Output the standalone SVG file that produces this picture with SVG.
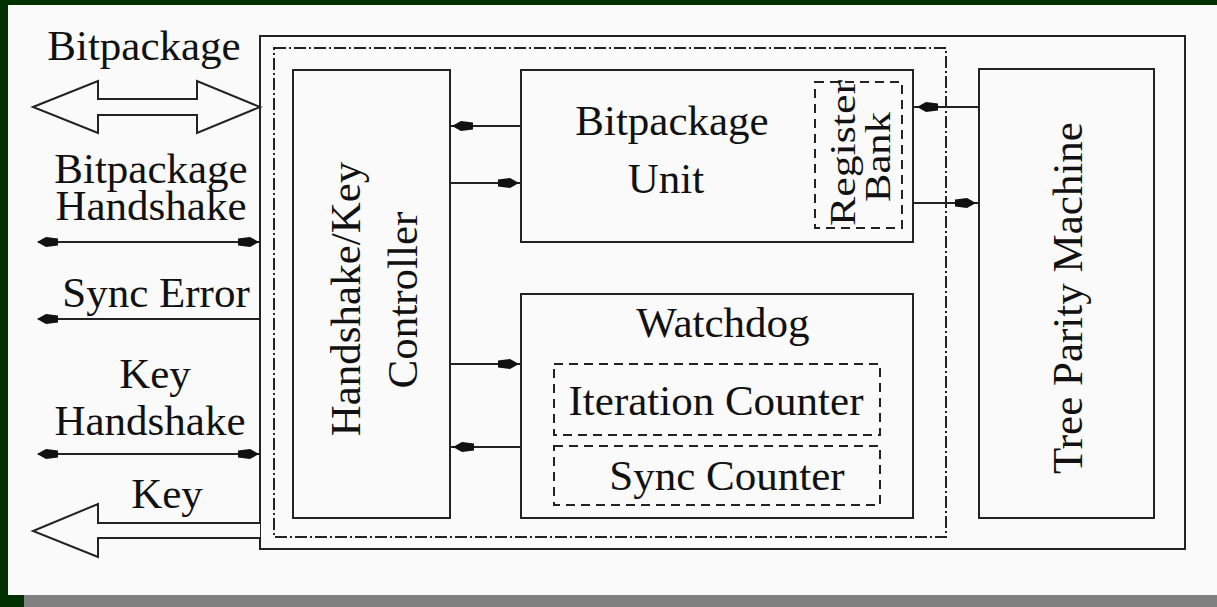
<svg xmlns="http://www.w3.org/2000/svg" width="1217" height="607" viewBox="0 0 1217 607">
  <style>
    .box { fill: none; stroke: #222; stroke-width: 2; }
    .dash { fill: none; stroke: #222; stroke-width: 2; stroke-dasharray: 9 6; }
    .dashdot { fill: none; stroke: #222; stroke-width: 2; stroke-dasharray: 12 3 2 3; }
    .wire { fill: none; stroke: #222; stroke-width: 2; }
    .bus { fill: #fafafa; stroke: #222; stroke-width: 2; stroke-linejoin: miter; }
    .lbl { font-family: "Liberation Serif", "Times New Roman", serif; font-size: 43px; fill: #111; text-anchor: middle; }
    .small { font-size: 35px; }
  </style>
  <defs>
    <!-- small filled arrowhead, tip at origin, pointing right -->
    <path id="ah" d="M0,0 L-9,-5 L-21,-3.5 L-21,3.5 L-9,5 Z" fill="#111"/>
  </defs>

  <!-- page frame -->
  <rect x="0" y="0" width="1217" height="607" fill="#013001"/>
  <rect x="8" y="5" width="1209" height="590" fill="#fafafa"/>
  <rect x="24" y="595" width="1193" height="12" fill="#808080"/>

  <!-- chip outline -->
  <g id="chip">
    <rect class="box" x="260" y="36" width="925" height="513"/>
    <rect class="dashdot" x="274" y="48" width="672" height="489"/>
  </g>

  <g id="controller">
    <rect class="box" x="293" y="70" width="157" height="448"/>
    <text class="lbl" transform="translate(360,299) rotate(-90)">Handshake/Key</text>
    <text class="lbl" transform="translate(417,300) rotate(-90)">Controller</text>
  </g>

  <g id="bitpackage-unit">
    <rect class="box" x="521" y="70" width="392" height="172"/>
    <text class="lbl" x="672" y="135">Bitpackage</text>
    <text class="lbl" x="666" y="193">Unit</text>
  </g>

  <g id="register-bank">
    <rect class="dash" x="815" y="82" width="87" height="146"/>
    <text class="lbl small" transform="translate(855,153) rotate(-90)" textLength="146" lengthAdjust="spacingAndGlyphs">Register</text>
    <text class="lbl small" transform="translate(890,157) rotate(-90)" textLength="90" lengthAdjust="spacingAndGlyphs">Bank</text>
  </g>

  <g id="watchdog">
    <rect class="box" x="521" y="294" width="392" height="224"/>
    <text class="lbl" x="723" y="337">Watchdog</text>
  </g>

  <g id="iteration-counter">
    <rect class="dash" x="554" y="364" width="326" height="71"/>
    <text class="lbl" x="716" y="415">Iteration Counter</text>
  </g>

  <g id="sync-counter">
    <rect class="dash" x="554" y="446" width="326" height="59"/>
    <text class="lbl" x="727" y="490">Sync Counter</text>
  </g>

  <g id="tree-parity-machine">
    <rect class="box" x="979" y="69" width="175" height="449"/>
    <text class="lbl" transform="translate(1082,298) rotate(-90)">Tree Parity Machine</text>
  </g>

  <!-- external ports -->
  <g id="port-labels">
    <text class="lbl" x="144" y="60">Bitpackage</text>
    <text class="lbl" x="151" y="183">Bitpackage</text>
    <text class="lbl" x="151" y="220">Handshake</text>
    <text class="lbl" x="156" y="307">Sync Error</text>
    <text class="lbl" x="155" y="388">Key</text>
    <text class="lbl" x="150" y="435">Handshake</text>
    <text class="lbl" x="167" y="508">Key</text>
  </g>

  <g id="connectors">
    <!-- bitpackage bus (bidirectional) -->
    <path class="bus" d="M33,107 L98,81 L98,99 L197,99 L197,81 L260,107 L197,133 L197,115 L98,115 L98,133 Z"/>
    <!-- key bus (outgoing) -->
    <path class="bus" d="M260,523 L98,523 L98,504 L33,531 L98,557 L98,538 L260,538"/>

    <!-- handshake and status lines -->
    <line class="wire" x1="38" y1="242" x2="260" y2="242"/>
    <use href="#ah" transform="translate(37,242) rotate(180)"/>
    <use href="#ah" transform="translate(259,242)"/>

    <line class="wire" x1="38" y1="319" x2="260" y2="319"/>
    <use href="#ah" transform="translate(37,319) rotate(180)"/>

    <line class="wire" x1="38" y1="454" x2="260" y2="454"/>
    <use href="#ah" transform="translate(37,454) rotate(180)"/>
    <use href="#ah" transform="translate(259,454)"/>

    <!-- controller <-> bitpackage unit -->
    <line class="wire" x1="450" y1="126" x2="521" y2="126"/>
    <use href="#ah" transform="translate(452,126) rotate(180)"/>
    <line class="wire" x1="450" y1="183" x2="521" y2="183"/>
    <use href="#ah" transform="translate(519,183)"/>

    <!-- register bank <-> tree parity machine -->
    <line class="wire" x1="913" y1="107" x2="979" y2="107"/>
    <use href="#ah" transform="translate(917,107) rotate(180)"/>
    <line class="wire" x1="913" y1="203" x2="979" y2="203"/>
    <use href="#ah" transform="translate(976,203)"/>

    <!-- controller <-> watchdog -->
    <line class="wire" x1="450" y1="364" x2="521" y2="364"/>
    <use href="#ah" transform="translate(519,364)"/>
    <line class="wire" x1="450" y1="447" x2="521" y2="447"/>
    <use href="#ah" transform="translate(453,447) rotate(180)"/>
  </g>
</svg>
